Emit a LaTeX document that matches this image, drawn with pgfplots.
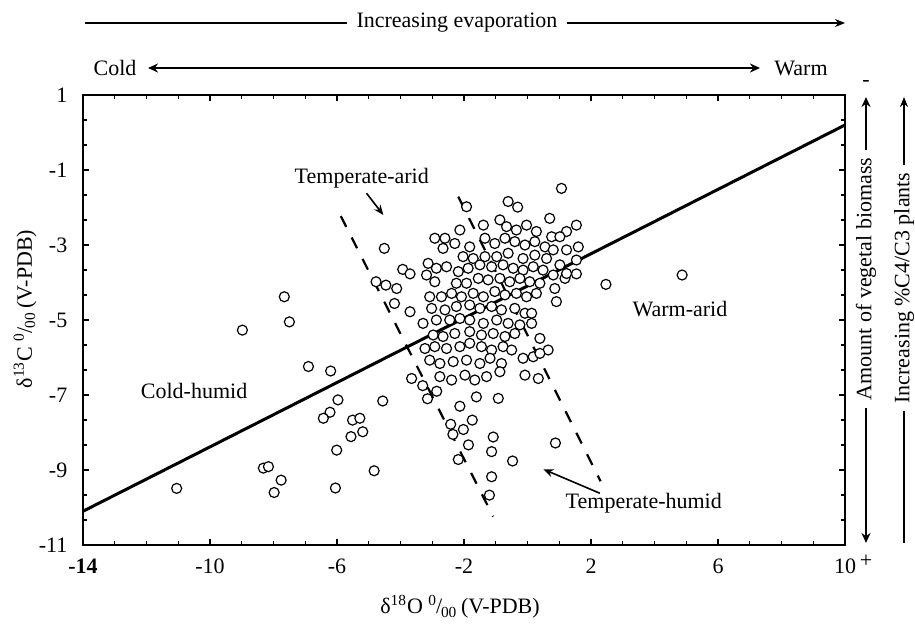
\documentclass[border=0pt]{standalone}
\usepackage{fontspec}
\setmainfont{Liberation Serif}
\usepackage{pgfplots}
\pgfplotsset{compat=1.18}
\usepackage{pgfplotstable}
\usetikzlibrary{arrows.meta}

\pgfplotstableread{
x y
-11.05 -9.49
-8.98 -5.27
-7.66 -4.38
-7.50 -5.05
-8.32 -8.95
-8.16 -8.91
-7.76 -9.27
-7.98 -9.60
-6.90 -6.24
-6.20 -6.36
-5.97 -7.13
-6.22 -7.46
-6.43 -7.62
-5.51 -7.67
-5.28 -7.62
-5.19 -7.98
-5.56 -8.11
-6.01 -8.47
-6.05 -9.48
-4.83 -9.02
-4.56 -7.16
-4.51 -3.09
-3.93 -3.65
-3.70 -3.77
-4.77 -3.98
-4.46 -4.07
-4.12 -4.16
-4.19 -4.56
-3.70 -4.78
-3.65 -6.56
-3.30 -6.75
-3.15 -7.10
-2.86 -6.90
-2.42 -7.78
-2.35 -8.05
-2.02 -7.92
-1.74 -7.67
-1.86 -8.33
-2.13 -7.30
-1.08 -8.12
0.88 -8.28
-2.18 -8.72
-1.13 -8.51
-0.47 -8.76
-1.13 -9.18
-1.20 -9.67
-1.61 -7.05
-0.92 -7.09
1.07 -1.49
2.47 -4.05
4.87 -3.80
-0.61 -1.84
-0.31 -1.99
-1.92 -1.98
0.70 -2.29
1.54 -2.47
1.23 -2.64
1.60 -3.05
1.54 -3.40
1.54 -3.77
1.18 -3.89
0.86 -4.16
0.91 -4.51
-1.39 -2.47
-0.87 -2.33
-0.66 -2.51
-0.35 -2.60
-0.03 -2.47
0.28 -2.64
0.76 -2.78
1.02 -2.78
-2.13 -2.60
-2.92 -2.82
-2.60 -2.82
-2.66 -3.09
-2.29 -2.96
-1.82 -3.05
-1.34 -2.82
-1.03 -2.96
-0.71 -2.82
-0.40 -2.91
-0.08 -3.00
0.23 -2.91
0.55 -3.05
0.81 -3.13
1.23 -3.13
-2.03 -3.31
-1.71 -3.36
-1.34 -3.31
-0.97 -3.31
-0.61 -3.22
-0.14 -3.36
0.23 -3.27
0.60 -3.36
1.02 -3.53
-3.13 -3.49
-2.87 -3.62
-2.55 -3.58
-3.18 -3.80
-2.92 -3.98
-2.18 -3.71
-1.87 -3.62
-1.50 -3.53
-1.13 -3.58
-0.77 -3.53
-0.45 -3.62
-0.14 -3.67
0.18 -3.58
0.49 -3.67
0.81 -3.80
1.23 -3.76
-2.24 -4.02
-1.92 -4.02
-1.55 -3.89
-1.24 -3.93
-0.87 -3.89
-0.56 -3.98
-0.24 -3.89
0.07 -3.98
0.39 -4.02
-3.08 -4.38
-2.71 -4.38
-2.39 -4.29
-2.08 -4.38
-1.71 -4.29
-1.39 -4.38
-1.03 -4.24
-0.71 -4.33
-0.35 -4.29
-0.03 -4.38
0.28 -4.29
-3.02 -4.69
-2.60 -4.73
-2.24 -4.64
-1.82 -4.60
-1.50 -4.69
-1.13 -4.64
-0.82 -4.73
-0.40 -4.69
-0.08 -4.82
0.13 -4.82
-3.29 -5.09
-2.87 -5.00
-2.45 -5.00
-2.13 -4.96
-1.82 -5.00
-1.39 -5.09
-0.97 -5.00
-0.61 -5.09
-0.24 -5.13
0.13 -5.09
-2.97 -5.40
-2.66 -5.44
-2.29 -5.36
-1.82 -5.31
-1.45 -5.40
-1.08 -5.36
-0.71 -5.44
-0.40 -5.36
0.39 -5.49
-3.23 -5.76
-2.92 -5.71
-2.55 -5.76
-2.13 -5.71
-1.82 -5.62
-1.45 -5.71
-1.13 -5.80
-0.77 -5.71
-0.50 -5.80
0.65 -5.80
-0.14 -6.02
0.18 -5.98
0.39 -5.89
-3.08 -6.07
-2.76 -6.16
-2.34 -6.11
-1.92 -6.07
-1.50 -6.16
-1.18 -6.02
-0.82 -6.16
-2.76 -6.51
-2.39 -6.60
-1.97 -6.47
-1.66 -6.60
-1.29 -6.51
-0.87 -6.38
-0.08 -6.47
0.34 -6.56
}\pts

\begin{document}
\fontsize{11pt}{13pt}\selectfont
\begin{tikzpicture}[x=1pt,y=1pt]
\path[use as bounding box] (-41.5,-39) rectangle (416,272.5);
\begin{axis}[
  at={(0,0)}, anchor=south west,
  width=381pt, height=225pt, scale only axis,
  xmin=-14, xmax=10, ymin=-11, ymax=1,
  xtick={-14,-10,-6,-2,2,6,10},
  xticklabels={\textbf{-14},-10,-6,-2,2,6,10},
  ytick={-11,-9,-7,-5,-3,-1,1},
  yticklabels={-11,-9,-7,-5,-3,-1,1},
  minor x tick num=3, minor y tick num=2,
  tick align=inside,
  major tick length=3pt, minor tick length=2pt,
  every tick/.style={black, line width=0.6pt},
  axis line style={line width=1pt},
  ticklabel style={font=\fontsize{11pt}{13pt}\selectfont},
  xticklabel style={yshift=-3pt},
  yticklabel style={xshift=-4pt},
  clip=false,
]
\addplot[only marks, mark=*, mark size=2.5pt,
  mark options={draw=black, fill=white, line width=0.6pt}] table[x=x,y=y] {\pts};
\addplot[no marks, line width=1.5pt] coordinates {(-14,-10.1) (10,0.2)};
\addplot[no marks, line width=1.1pt, dash pattern=on 6pt off 6pt] coordinates {(-5.88,-2.23) (-1.08,-10.24)};
\addplot[no marks, line width=1.1pt, dash pattern=on 6pt off 6pt] coordinates {(-2.18,-1.71) (2.3,-9.3)};
\node at (axis cs:-5.22,-1.22) {Temperate-arid};
\draw[-{Stealth[length=5pt,width=4pt]}, line width=0.8pt] (axis cs:-5.07,-1.62) -- (axis cs:-4.54,-2.2);
\node[anchor=west] at (axis cs:0.96,-9.88) {Temperate-humid};
\draw[-{Stealth[length=5pt,width=4pt]}, line width=0.8pt] (axis cs:2.28,-9.62) -- (axis cs:0.5,-8.98);
\node at (axis cs:4.8,-4.72) {Warm-arid};
\node at (axis cs:-10.5,-6.9) {Cold-humid};
\end{axis}
% annotations outside the axis
\draw[-{Stealth[length=5pt,width=4pt]}, line width=0.8pt] (1,261) -- (381,261);
\node[fill=white, inner xsep=5pt] at (187,261) {Increasing evaporation};
\draw[{Stealth[length=5pt,width=4.5pt]}-{Stealth[length=5pt,width=4.5pt]}, line width=1.2pt] (32.5,238.5) -- (338.5,238.5);
\node at (16,238.5) {Cold};
\node at (359,238.5) {Warm};
\draw[{Stealth[length=5pt,width=4.5pt]}-{Stealth[length=5pt,width=4.5pt]}, line width=1.2pt] (391.5,1) -- (391.5,224);
\node[rotate=90, fill=white, inner xsep=4pt] at (391.5,133) {Amount of vegetal biomass};
\node at (391.5,231) {-};
\node at (391.5,-8) {+};
\draw[-{Stealth[length=5pt,width=4pt]}, line width=0.8pt] (410.5,1) -- (410.5,224);
\node[rotate=90, fill=white, inner xsep=4pt] at (410.5,128.5) {Increasing \%C4/C3 plants};
\node[rotate=90] at (-29,118) {δ\textsuperscript{13}C \textsuperscript{0}\kern-0.05em/\kern-0.05em\textsubscript{00}\,(V-PDB)};
\node at (188.5,-31) {δ\textsuperscript{18}O \textsuperscript{0}\kern-0.05em/\kern-0.05em\textsubscript{00}\,(V-PDB)};
\end{tikzpicture}
\end{document}
